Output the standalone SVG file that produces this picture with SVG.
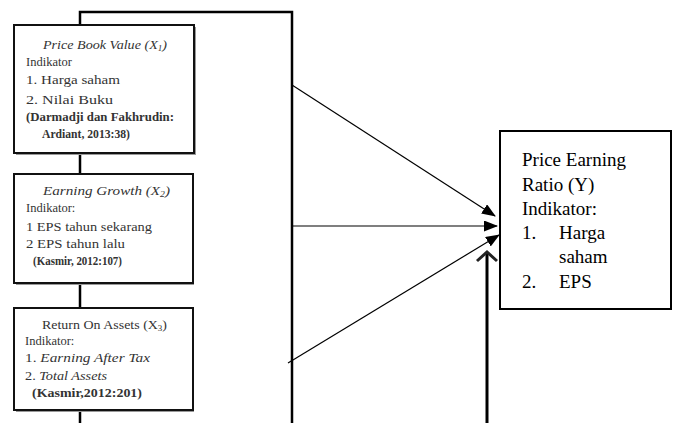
<svg xmlns="http://www.w3.org/2000/svg" width="676" height="423" viewBox="0 0 676 423">
<style>
.frame{fill:none;stroke:#000;stroke-width:2.5}
.box{fill:#fff;stroke:#111;stroke-width:2}
.shadow{fill:#999}
.st{font-family:"Liberation Serif",serif;font-size:12.5px;fill:#333}
.it{font-style:italic}
.b{font-weight:bold}
.big{font-family:"Liberation Serif",serif;font-size:19px;fill:#000}
.thin{stroke:#000;stroke-width:1.2;fill:none}
</style>
<defs>
<marker id="ah" viewBox="0 0 14 11" refX="13" refY="5.5" markerWidth="14" markerHeight="11" markerUnits="userSpaceOnUse" orient="auto">
<path d="M0,0 L14,5.5 L0,11 Z" fill="#000"/>
</marker>
</defs>
<g id="connectors">
<polyline class="frame" points="80,423 80,12 292,12 292,423"/>
<line class="thin" x1="292" y1="85" x2="495" y2="216" marker-end="url(#ah)"/>
<line class="thin" x1="292" y1="226" x2="497" y2="226" marker-end="url(#ah)"/>
<line class="thin" x1="288" y1="363" x2="499" y2="235" marker-end="url(#ah)"/>
<line x1="487" y1="423" x2="487" y2="253" stroke="#000" stroke-width="3"/>
<polyline points="477,261 487,252 497,261" fill="none" stroke="#222" stroke-width="3"/>
</g>
<g id="node-x1">
<rect class="shadow" x="16" y="27" width="180" height="128"/>
<rect class="box" x="14" y="25" width="180" height="128"/>
<text class="st it" x="43" y="49" textLength="124" lengthAdjust="spacingAndGlyphs">Price Book Value (X<tspan font-size="8" dy="2">1</tspan><tspan dy="-2">)</tspan></text>
<text class="st" x="26" y="66">Indikator</text>
<text class="st" x="26" y="84" textLength="94" lengthAdjust="spacingAndGlyphs">1. Harga saham</text>
<text class="st" x="26" y="104" textLength="87" lengthAdjust="spacingAndGlyphs">2. Nilai Buku</text>
<text class="st b" x="26" y="121" textLength="148" lengthAdjust="spacingAndGlyphs">(Darmadji dan Fakhrudin:</text>
<text class="st b" x="42" y="138" textLength="88" lengthAdjust="spacingAndGlyphs">Ardiant, 2013:38)</text>
</g>
<g id="node-x2">
<rect class="shadow" x="16" y="176" width="178" height="109"/>
<rect class="box" x="14" y="174" width="179" height="109"/>
<text class="st it" x="43" y="195" textLength="127" lengthAdjust="spacingAndGlyphs">Earning Growth (X<tspan font-size="8" dy="2">2</tspan><tspan dy="-2">)</tspan></text>
<text class="st" x="26" y="212">Indikator:</text>
<text class="st" x="26" y="231" textLength="126" lengthAdjust="spacingAndGlyphs">1 EPS tahun sekarang</text>
<text class="st" x="26" y="248" textLength="99" lengthAdjust="spacingAndGlyphs">2 EPS tahun lalu</text>
<text class="st b" x="33" y="265" textLength="89" lengthAdjust="spacingAndGlyphs">(Kasmir, 2012:107)</text>
</g>
<g id="node-x3">
<rect class="shadow" x="16" y="310" width="178" height="102"/>
<rect class="box" x="14" y="308" width="179" height="102"/>
<text class="st" x="42" y="329" textLength="125" lengthAdjust="spacingAndGlyphs">Return On Assets (X<tspan font-size="8" dy="2">3</tspan><tspan dy="-2">)</tspan></text>
<text class="st" x="25" y="345">Indikator:</text>
<text class="st" x="25" y="362" textLength="125" lengthAdjust="spacingAndGlyphs">1. <tspan class="it">Earning After Tax</tspan></text>
<text class="st" x="25" y="380" textLength="82" lengthAdjust="spacingAndGlyphs">2. <tspan class="it">Total Assets</tspan></text>
<text class="st b" x="32" y="397" textLength="110" lengthAdjust="spacingAndGlyphs">(Kasmir,2012:201)</text>
</g>
<g id="node-y">
<rect x="500" y="131" width="171" height="178" fill="#fff" stroke="#000" stroke-width="2"/>
<text class="big" x="522" y="166">Price Earning</text>
<text class="big" x="522" y="191">Ratio (Y)</text>
<text class="big" x="522" y="215">Indikator:</text>
<text class="big" x="522" y="239">1.</text>
<text class="big" x="559" y="239">Harga</text>
<text class="big" x="559" y="263">saham</text>
<text class="big" x="522" y="288">2.</text>
<text class="big" x="559" y="288">EPS</text>
</g>
</svg>
